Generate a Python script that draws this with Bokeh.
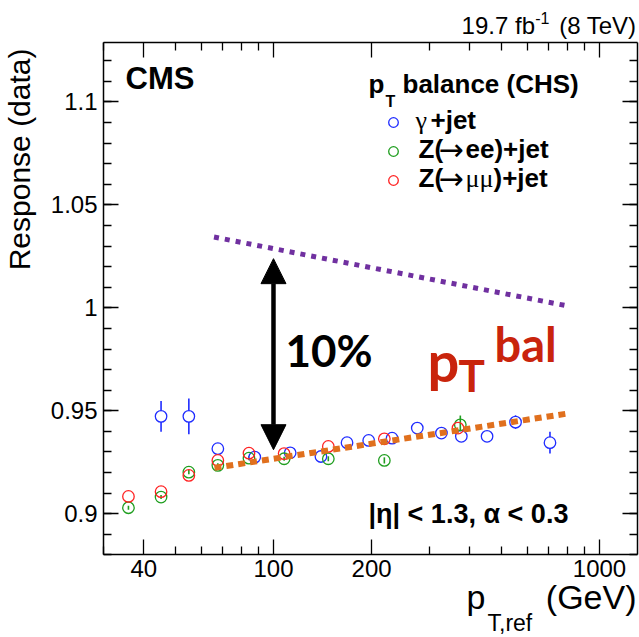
import math
import numpy as np
from bokeh.plotting import figure
from bokeh.models import (FixedTicker, CustomJSTickFormatter, LinearAxis, LogAxis, Label,
                          Arrow, NormalHead, Legend, LegendItem, Range1d)
from bokeh.embed import file_html
from bokeh.resources import INLINE

# ---------------- data ----------------
gamma_pt = [45.2, 55.0, 67.5, 87.6, 112.5, 139.8, 168.1, 195.9, 231.1, 276.1, 327.5, 376.9, 452.0, 552.7, 704.9]
gamma_resp = [0.9473, 0.9473, 0.9316, 0.9275, 0.9296, 0.9278, 0.9345, 0.9356, 0.9367, 0.9416, 0.9392, 0.9376, 0.9376, 0.9445, 0.9345]
gamma_err = [0.0075, 0.0087, 0.0012, 0.0010, 0.0010, 0.0010, 0.0010, 0.0010, 0.0012, 0.0012, 0.0015, 0.0020, 0.0025, 0.0033, 0.0053]

zee_pt = [35.9, 45.2, 55.0, 67.5, 84.1, 107.8, 147.3, 218.8, 374.2]
zee_resp = [0.9029, 0.9081, 0.9202, 0.9235, 0.9270, 0.9267, 0.9267, 0.9259, 0.9432]
zee_err = [0.0010, 0.0010, 0.0010, 0.0010, 0.0010, 0.0010, 0.0012, 0.0015, 0.0045]

zmm_pt = [35.9, 45.2, 55.0, 67.5, 84.1, 107.8, 147.3, 218.8, 368.2]
zmm_resp = [0.9084, 0.9107, 0.9186, 0.9259, 0.9294, 0.9292, 0.9327, 0.9364, 0.9416]

# dotted reference lines (end points)
upper_pt = [65.7, 783.0]
upper_resp = [1.0344, 1.0012]
ptbal_pt = [65.9, 792.0]
ptbal_resp = [0.9223, 0.9486]

# 10% arrow
arrow_pt = 100.0
arrow_lo = 0.9311
arrow_hi = 1.0239

# axis ranges of the drawn box and ticks
X_MIN, X_MAX = 30.1, 1308.0
Y_MIN, Y_MAX = 0.8802, 1.1289
x_major = [40, 100, 200, 1000]
x_minor = [30, 50, 60, 70, 80, 90, 300, 400, 500, 600, 700, 800, 900]
y_major = [0.9, 0.95, 1.0, 1.05, 1.1]
y_minor = [round(0.88 + 0.01 * i, 2) for i in range(25)]

# ---------------- layout ----------------
W, H = 639, 637
BOX_L, BOX_R, BOX_T, BOX_B = 103, 637, 42, 554   # box in canvas pixels

lx0, lx1 = math.log10(X_MIN), math.log10(X_MAX)
dlx = (lx1 - lx0) / (BOX_R - BOX_L)
cx_lo = 10 ** (lx0 - BOX_L * dlx)
cx_hi = 10 ** (lx1 + (W - BOX_R) * dlx)
dy = (Y_MAX - Y_MIN) / (BOX_B - BOX_T)
cy_lo = Y_MIN - (H - BOX_B) * dy
cy_hi = Y_MAX + BOX_T * dy

FONT = "Liberation Sans"
SERIF = "Liberation Serif"
SYM = "DejaVu Sans"
BLUE = "#1f2cff"
GREEN = "#1f9e1f"
RED = "#ff2222"

p = figure(width=W, height=H, x_axis_type="log",
           x_range=Range1d(cx_lo, cx_hi), y_range=Range1d(cy_lo, cy_hi),
           output_backend="svg", toolbar_location=None,
           min_border=0, min_border_left=0, min_border_right=0,
           min_border_top=0, min_border_bottom=0)
p.grid.visible = False
p.outline_line_color = None
p.background_fill_color = "white"
p.border_fill_color = "white"

xt = FixedTicker(ticks=x_major, minor_ticks=x_minor)
yt = FixedTicker(ticks=y_major, minor_ticks=y_minor)


def style(ax, labels):
    ax.axis_line_color = "black"
    ax.axis_line_width = 1.5
    ax.major_tick_in = 15
    ax.major_tick_out = 0
    ax.minor_tick_in = 8
    ax.minor_tick_out = 0
    ax.major_tick_line_color = "black"
    ax.minor_tick_line_color = "black"
    ax.major_tick_line_width = 1.3
    ax.minor_tick_line_width = 1.3
    if labels:
        ax.major_label_text_font = FONT
        ax.major_label_text_font_size = "24px"
        ax.major_label_text_color = "black"
    else:
        ax.major_label_text_font_size = "0px"
        ax.major_label_standoff = 0
        ax.formatter = CustomJSTickFormatter(code="return ''")


xa = p.xaxis[0]
ya = p.yaxis[0]
xa.ticker = xt
ya.ticker = yt
ya.formatter = CustomJSTickFormatter(code="return String(Math.round(tick*1000)/1000)")
xa.formatter = CustomJSTickFormatter(code="return String(Math.round(tick))")
style(xa, True)
style(ya, True)
xa.major_label_standoff = 5
ya.major_label_standoff = 6
xa.fixed_location = Y_MIN
xa.bounds = (X_MIN, X_MAX)
ya.fixed_location = X_MIN
ya.bounds = (Y_MIN, Y_MAX)

top_ax = LogAxis(ticker=xt, fixed_location=Y_MAX, bounds=(X_MIN, X_MAX))
style(top_ax, False)
p.add_layout(top_ax, "above")
right_ax = LinearAxis(ticker=yt, fixed_location=X_MAX, bounds=(Y_MIN, Y_MAX))
style(right_ax, False)
p.add_layout(right_ax, "right")

# error bars
g_pt = np.array(gamma_pt); g_r = np.array(gamma_resp); g_e = np.array(gamma_err)
p.segment(x0=g_pt, y0=g_r - g_e, x1=g_pt, y1=g_r + g_e, line_color=BLUE, line_width=1.6)
e_pt = np.array(zee_pt); e_r = np.array(zee_resp); e_e = np.array(zee_err)
p.segment(x0=e_pt, y0=e_r - e_e, x1=e_pt, y1=e_r + e_e, line_color=GREEN, line_width=1.6)

r_gamma = p.scatter(gamma_pt, gamma_resp, marker="circle", size=11.5, fill_color="white",
                    line_color=BLUE, line_width=1.3)
r_zee = p.scatter(zee_pt, zee_resp, marker="circle", size=11.5, fill_color=None,
                  line_color=GREEN, line_width=1.3)
r_zmm = p.scatter(zmm_pt, zmm_resp, marker="circle", size=11.5, fill_color=None,
                  line_color=RED, line_width=1.3)

p.line(upper_pt, upper_resp, line_color="#7030a0", line_width=5, line_dash="5 6")
p.line(ptbal_pt, ptbal_resp, line_color="#e0701e", line_width=6, line_dash="7 5")

head = dict(size=25, fill_color="black", line_color="black", line_width=1)
p.add_layout(Arrow(start=NormalHead(**head), end=NormalHead(**head),
                   x_start=arrow_pt, y_start=arrow_lo, x_end=arrow_pt, y_end=arrow_hi,
                   line_color="black", line_width=4.5))

# legend markers (texts are drawn below as labels so that the symbols can use other fonts)
legend = Legend(items=[LegendItem(label="", renderers=[r_gamma]),
                       LegendItem(label="", renderers=[r_zee]),
                       LegendItem(label="", renderers=[r_zmm])],
                location=(381, H - 193.7), orientation="vertical",
                background_fill_alpha=0, border_line_alpha=0, padding=0, margin=0,
                spacing=1, glyph_width=24, glyph_height=28, label_height=28,
                label_standoff=0, label_text_font=FONT, label_text_font_size="18px",
                label_text_font_style="bold", label_text_baseline="middle")
p.add_layout(legend)

# half of (ascent - descent) in em: shift from baseline to middle of the text line
KMID = {FONT: 0.3465, "Lato": 0.387, SERIF: 0.3375, SYM: 0.346}


def lab(text, px, base, size, style="normal", color="black", align="left", font=FONT):
    """px: canvas x of the anchor, base: canvas y of the baseline."""
    mid = base - KMID[font] * size
    p.add_layout(Label(text=text, x=px, y=H - mid, x_units="screen", y_units="screen",
                       text_font=font, text_font_size=f"{size}px", text_font_style=style,
                       text_color=color, text_align=align, text_baseline="middle"))


lab("CMS", 125, 89, 31, "bold")
lab("(8 TeV)", 636, 33, 24, align="right")
lab("-1", 549, 23, 16, align="right")
lab("19.7 fb", 534.5, 33, 24, align="right")

# legend header and entries
lab("p", 368, 93, 26, "bold")
lab("T", 385, 107, 16, "bold")
lab("balance (CHS)", 402, 93, 26, "bold")

rows = [128.7, 157.7, 186.3]
lab("γ", 415, rows[0], 26, font=SERIF)
lab("+jet", 430, rows[0], 26, "bold")
lab("Z(", 418, rows[1], 26, "bold")
lab("→", 438, rows[1] + 2, 30, font=SYM)
lab("ee)+jet", 465, rows[1], 26, "bold")
lab("Z(", 418, rows[2], 26, "bold")
lab("→", 438, rows[2] + 2, 30, font=SYM)
lab("μμ", 465, rows[2], 26, font=SERIF)
lab(")+jet", 493, rows[2], 26, "bold")

lab("10%", 285, 367, 44, "bold", font="Lato")
PT_RED = "#c9240c"
lab("p", 427, 382, 56, "bold", PT_RED, font="Lato")
lab("T", 458, 392, 44, "bold", PT_RED, font="Lato")
lab("bal", 494, 362, 47, "bold", PT_RED, font="Lato")

lab("|η| < 1.3,", 368, 523, 27, "bold")
lab("α < 0.3", 483, 523, 27, "bold")

# y title (rotated, reading upwards, ending near the top of the box)
p.add_layout(Label(text="Response (data)", x=29 - KMID[FONT] * 30, y=H - 48,
                   x_units="screen", y_units="screen", angle=math.pi / 2,
                   text_font=FONT, text_font_size="30px", text_align="right",
                   text_color="black", text_baseline="middle"))

lab("p", 466, 608, 34)
lab("T,ref", 487, 630, 23)
lab("(GeV)", 636, 608, 34, align="right")

open("out.html", "w").write(file_html(p, INLINE))
